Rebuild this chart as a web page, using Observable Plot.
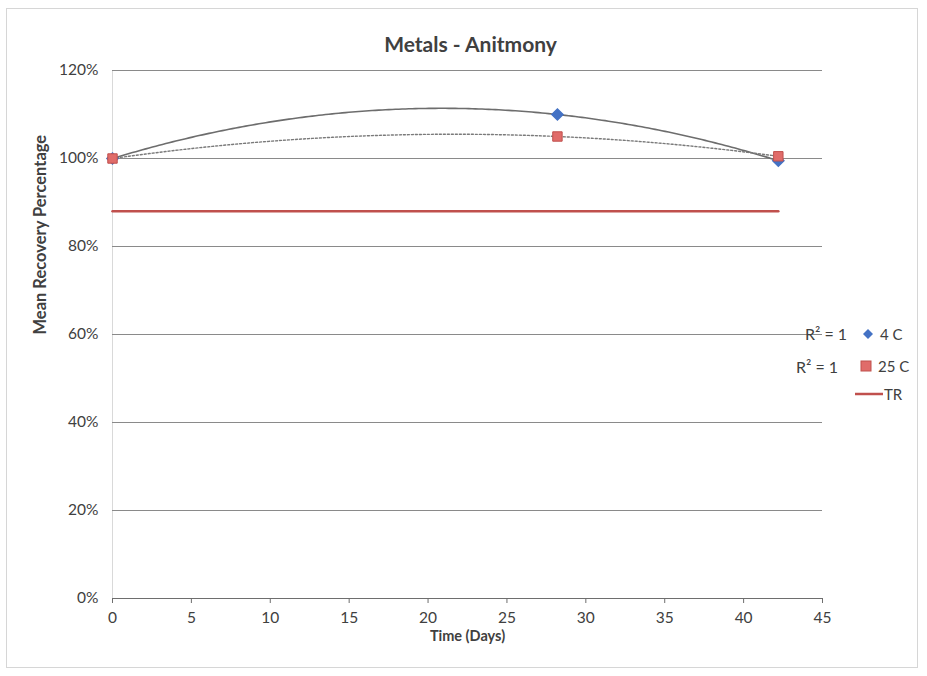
<!DOCTYPE html>
<html>
<head>
<meta charset="utf-8">
<script src="https://cdn.jsdelivr.net/npm/d3@7"></script>
<script src="https://cdn.jsdelivr.net/npm/@observablehq/plot@0.6"></script>
<style>
  html, body { margin: 0; padding: 0; background: #fff; }
  #wrap { position: relative; width: 927px; height: 676px; font-family: Lato, "Open Sans", sans-serif; }
  #frame { position: absolute; left: 6px; top: 8px; width: 912px; height: 660px; border: 1px solid #d6d6d6; box-sizing: border-box; pointer-events: none; }
  .leg { position: absolute; font-size: 15px; color: #404040; white-space: nowrap; }
</style>
</head>
<body>
<div id="wrap">
  <div id="chart"></div>
  <div id="frame"></div>
  <div id="legend"></div>
</div>
<script>
// ---- data ----
const title = "Metals - Anitmony";
const xLabel = "Time (Days)";
const yLabel = "Mean Recovery Percentage";
const days = [0, 28.2, 42.2];
const recovery4C = [100, 110, 99.5];
const recovery25C = [100, 105, 100.5];
const trDays = [0, 42.2];
const trValues = [88, 88];
const xTicks = [0, 5, 10, 15, 20, 25, 30, 35, 40, 45];
const yTicks = [0, 20, 40, 60, 80, 100, 120];
const seriesNames = ["4 C", "25 C", "TR"];
const r2Label = "R² = 1";

// ---- polynomial (order 2) trendline, as the spreadsheet draws it ----
function quadFit(xs, ys) {
  let S = [[0,0,0],[0,0,0],[0,0,0]], T = [0,0,0];
  xs.forEach((x, i) => {
    const p = [1, x, x * x];
    for (let r = 0; r < 3; r++) { T[r] += p[r] * ys[i]; for (let c = 0; c < 3; c++) S[r][c] += p[r] * p[c]; }
  });
  const A = S.map((row, i) => [...row, T[i]]);
  for (let i = 0; i < 3; i++) {
    for (let k = i + 1; k < 3; k++) {
      const f = A[k][i] / A[i][i];
      for (let j = i; j < 4; j++) A[k][j] -= f * A[i][j];
    }
  }
  const b = [0,0,0];
  for (let i = 2; i >= 0; i--) {
    let s = A[i][3];
    for (let j = i + 1; j < 3; j++) s -= A[i][j] * b[j];
    b[i] = s / A[i][i];
  }
  return x => b[0] + b[1] * x + b[2] * x * x;
}
const f4 = quadFit(days, recovery4C);
const f25 = quadFit(days, recovery25C);
const xmax = d3.max(days);
const xs = d3.range(0, 201).map(i => xmax * i / 200);
const trend4 = xs.map(x => ({x, y: f4(x)}));
const trend25 = xs.map(x => ({x, y: f25(x)}));

const pts4 = days.map((d, i) => ({x: d, y: recovery4C[i]}));
const pts25 = days.map((d, i) => ({x: d, y: recovery25C[i]}));
const trData = trDays.map((d, i) => ({x: d, y: trValues[i]}));

const font = "Lato, 'Open Sans', sans-serif";

const chart = Plot.plot({
  width: 927,
  height: 676,
  marginLeft: 112,
  marginRight: 105,
  marginTop: 70,
  marginBottom: 78,
  style: { fontFamily: font, fontSize: "15px", color: "#404040", background: "transparent" },
  x: { domain: [0, 45], ticks: xTicks, tickSize: 5, tickPadding: 8, label: null },
  y: { domain: [0, 120], ticks: yTicks, tickSize: 0, tickPadding: 14, tickFormat: d => d + "%", label: null },
  marks: [
    Plot.ruleX([0], {stroke: "#d9d9d9", strokeWidth: 1}),
    Plot.ruleY(yTicks.filter(d => d > 0), {stroke: "#8a8a8a", strokeWidth: 1}),
    Plot.ruleY([0], {stroke: "#6e6e6e", strokeWidth: 1.2}),
    Plot.axisX({ticks: xTicks, tickSize: 5, tickPadding: 8, stroke: "#6e6e6e", fontSize: 15.5, fill: "#404040"}),
    Plot.axisY({ticks: yTicks, tickSize: 0, tickPadding: 14, tickFormat: d => d + "%", fontSize: 15.5, fill: "#404040"}),
    Plot.line(trData, {x: "x", y: "y", stroke: "#c0504d", strokeWidth: 2.5}),
    Plot.line(trend4, {x: "x", y: "y", stroke: "#6d6d6d", strokeWidth: 1.6}),
    Plot.line(trend25, {x: "x", y: "y", stroke: "#7a7a7a", strokeWidth: 1.4, strokeDasharray: "2,2"}),
    Plot.dot(pts4, {x: "x", y: "y", symbol: "diamond2", r: 5, fill: "#4472c4", stroke: "#4472c4"}),
    Plot.dot(pts25, {x: "x", y: "y", symbol: "square2", r: 6, fill: "#e06c6a", stroke: "#c0504d", strokeWidth: 1}),
    Plot.text([title], {frameAnchor: "top", dx: 3, dy: -33, fontSize: 21, fontWeight: "bold", fill: "#404040"}),
    Plot.text([xLabel], {frameAnchor: "bottom", dy: 42, fontSize: 14.5, fontWeight: "bold", fill: "#404040"}),
    Plot.text([yLabel], {frameAnchor: "left", dx: -72, dy: 0, rotate: -90, fontSize: 16.5, fontWeight: "bold", fill: "#404040"})
  ]
});
document.getElementById("chart").appendChild(chart);

// ---- legend with R² labels (as in the spreadsheet chart) ----
const legend = document.getElementById("legend");
const items = [
  {name: seriesNames[0], sym: `<svg width="12" height="12" viewBox="-6 -6 12 12"><path d="M0,-5L5,0L0,5L-5,0Z" fill="#4472c4"/></svg>`, top: 323, left: 862, r2: {left: 805, top: 323}},
  {name: seriesNames[1], sym: `<svg width="12" height="12" viewBox="-6 -6 12 12"><rect x="-5" y="-5" width="10" height="10" fill="#e06c6a" stroke="#c0504d"/></svg>`, top: 355, left: 860, r2: {left: 796, top: 356}},
  {name: seriesNames[2], sym: `<svg width="28" height="12" viewBox="0 -6 28 12"><line x1="0" y1="0" x2="28" y2="0" stroke="#c0504d" stroke-width="2.5"/></svg>`, top: 383, left: 855, r2: null}
];
items.forEach(it => {
  const d = document.createElement("div");
  d.className = "leg";
  d.style.left = it.left + "px";
  d.style.top = it.top + "px";
  d.innerHTML = `<span style="display:inline-block;vertical-align:middle">${it.sym}</span><span style="vertical-align:middle;margin-left:${it.name === "TR" ? 1 : 6}px">${it.name}</span>`;
  legend.appendChild(d);
  if (it.r2) {
    const r = document.createElement("div");
    r.className = "leg";
    r.style.left = it.r2.left + "px";
    r.style.top = (it.r2.top + 1) + "px";
    r.style.fontSize = "16px";
    r.textContent = r2Label;
    legend.appendChild(r);
  }
});
</script>
</body>
</html>
